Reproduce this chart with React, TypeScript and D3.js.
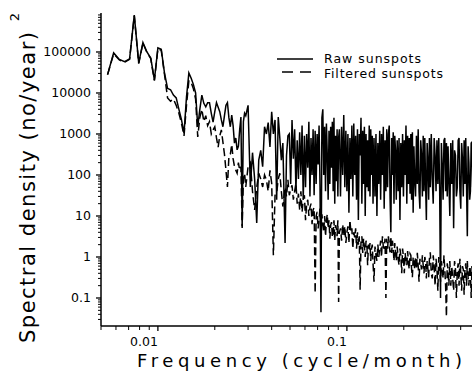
import React from 'react';
import * as d3 from 'd3';

// Periodogram harmonics (frequency = harmonic / record length in months)
const RECORD_MONTHS = 2400;
const HARMONICS = [
  13, 14, 15, 16, 17, 18, 19, 20, 21, 22, 23, 24, 25, 26, 27, 28, 29, 30, 31, 32,
  33, 34, 35, 36, 37, 38, 39, 40, 41, 42, 43, 44, 45, 46, 47, 48, 49, 50, 51, 52,
  53, 54, 55, 56, 57, 58, 59, 60, 61, 62, 63, 64, 65, 66, 67, 68, 69, 70,
  72, 74, 76, 78, 80, 82, 84, 86, 88, 90, 92, 94, 96, 98, 100, 102, 104, 106, 108, 110,
  113, 115, 117, 119, 121, 123, 125, 127, 129, 131, 133, 135, 137, 139, 141, 143, 145, 147, 149, 151,
  153, 155, 157, 159, 161, 163,
  165, 167, 169, 171, 173, 175, 177, 179, 181, 183, 185, 187, 189, 191, 193, 195, 197, 199, 201, 203,
  205, 207, 209, 211, 213, 215, 217, 219,
  222, 225, 228, 231, 234, 237, 240, 243, 246, 249, 252, 255, 258, 261, 264, 267, 270, 273, 276, 279,
  282, 285, 288, 291, 294, 297, 300, 303, 306, 309, 312, 315, 318, 321, 324, 327, 330,
  334, 338, 342, 346, 350, 354, 358, 362, 366, 370, 374, 378, 382, 386, 390, 394, 398, 402, 406, 410,
  414, 418, 422, 426, 430, 434, 438,
  443, 448, 453, 458, 463, 468, 473, 478, 483, 488, 493, 498, 503, 508, 513, 518, 523, 528, 533, 538,
  543, 548,
  554, 560, 566, 572, 578, 584, 590, 596, 602, 608, 614, 620, 626, 632, 638, 644, 650, 656,
  663, 671, 679, 687, 695, 703, 711, 719, 727, 735, 743, 751, 759, 767, 775, 783, 791, 799, 807, 815,
  823, 831,
  841, 851, 861, 871, 881, 891, 901, 911, 921, 931, 941, 951, 961, 971, 981, 991, 1001, 1011, 1021, 1031,
  1041, 1051, 1061, 1071, 1081, 1091, 1101, 1111, 1121, 1131, 1141, 1151, 1161, 1171, 1181, 1191, 1200,
];

const RAW_DENSITY = [
  28000, 95000, 66000, 58000, 68000, 790000, 54000, 170000, 100000, 71000,
  21000, 126000, 117000, 31000, 13000, 12000, 8900, 7600, 4000, 2200,
  1050, 7900, 31000, 23000, 16000, 10000, 1500, 4000, 8900, 5600,
  4600, 5800, 5800, 3200, 1950, 3500, 5800, 4500, 3500, 2200,
  1500, 2800, 5000, 5800, 2500, 1500, 2900, 1600, 600, 800,
  410, 500, 1260, 2600, 5.6, 2000, 3200, 2800,
  5000, 51, 350, 80, 6.8, 230, 400, 160, 1500, 1000, 1900, 480, 3500, 1000, 2200, 25, 2600, 800, 230, 600,
  2.2, 300, 900, 1000, 60, 2200, 250, 1300, 40, 700, 80, 1100, 100, 1600, 25, 900, 50, 1000, 150, 2000,
  30, 800, 100, 1300, 32, 1200,
  60, 1000, 180, 1600, 50, 0.045, 2500, 4000, 100, 1500, 40, 1800, 300, 25, 1200, 60, 1500, 150, 2000, 40,
  2500, 20, 900, 70, 1300, 30, 800, 1300,
  30, 1500, 100, 2900, 50, 1200, 40, 1000, 12, 800, 80, 1600, 30, 1800, 100, 900, 25, 1300, 8, 1000,
  300, 2500, 20, 1200, 60, 1500, 10, 1000, 50, 700, 40, 1600, 30, 1300, 100, 900, 20,
  800, 30, 1000, 10, 600, 60, 1200, 25, 1000, 100, 1500, 15, 700, 40, 1300, 50, 1000, 1600, 30, 4,
  800, 100, 1100, 20, 900, 400, 25,
  700, 40, 800, 8, 600, 50, 1000, 30, 700, 100, 1600, 20, 900, 60, 800, 35, 1000, 25, 1100, 12,
  500, 80,
  30, 900, 60, 1300, 40, 15, 700, 300, 30, 900, 40, 800, 60, 8, 600, 200, 25, 800,
  50, 1000, 80, 20, 800, 300, 40, 700, 60, 800, 50, 0.1, 600, 150, 25, 700, 800, 40, 600, 30,
  500, 80,
  10, 600, 60, 700, 5, 400, 300, 30, 50, 700, 800, 40, 15, 600, 250, 30, 700, 60, 800, 50,
  3.2, 500, 200, 25, 40, 600, 630, 50, 500, 30, 700, 60, 500, 25, 600, 80, 400,
];

const FILTERED_DENSITY = [
  28000, 90000, 64000, 56000, 66000, 760000, 52000, 165000, 97000, 69000,
  20000, 120000, 110000, 29000, 7600, 6300, 7100, 5000, 3200, 1800,
  900, 5000, 20000, 18000, 12600, 7100, 850, 2500, 4000, 2000,
  2800, 1600, 2000, 1000, 1260, 1500, 800, 480, 900, 1260,
  630, 320, 130, 51, 280, 320, 560, 250, 160, 130,
  110, 200, 130, 160, 5.1, 80, 110, 51,
  160, 200, 40, 14, 50, 110, 80, 51, 100, 76, 40, 130, 63, 1.1, 32, 36, 80, 110, 40, 17,
  50, 30, 76, 32, 45, 56, 25, 40, 63, 20, 35, 14, 40, 12.6, 25, 32, 7.9, 20, 25, 10,
  16, 20, 6.3, 14, 16, 0.13,
  10, 12.6, 5, 8, 16, 4, 11, 6, 4, 10, 3.2, 8, 11, 5, 7.9, 2.8, 6, 7.1, 3, 4,
  7.9, 2.5, 6, 5, 3.2, 7.9, 0.08, 4,
  5, 2.5, 6.3, 3.2, 5.6, 2.2, 4, 5.6, 2.2, 7.9, 4, 5, 1.6, 4, 3, 5, 1.6, 4, 2, 3.2,
  0.16, 2.5, 3.2, 1.26, 2.8, 1.8, 1, 2.5, 2.2, 0.63, 2, 1.4, 2.2, 0.8, 1.6, 2, 0.7,
  0.25, 1.8, 1.1, 0.8, 2, 1, 1.6, 2.5, 1, 3.2, 1.8, 1.6, 2.8, 0.1, 2.8, 1.6, 3.2, 2, 1.3, 3.2,
  1.26, 2.5, 1.6, 0.8, 2.2, 1.3, 0.8,
  1.8, 0.9, 0.63, 1.6, 1.1, 0.4, 1.6, 1.0, 0.4, 1.26, 0.8, 0.63, 1.4, 0.7, 0.5, 1.2, 1.1, 0.5, 0.32, 1,
  0.8, 0.5,
  1, 0.5, 1.26, 0.6, 0.25, 0.9, 0.7, 0.5, 1.1, 0.63, 0.4, 1, 0.8, 0.3, 0.8, 0.5, 0.32, 0.9,
  1.3, 0.4, 0.3, 1.1, 0.6, 0.2, 0.9, 0.5, 0.15, 1.0, 0.7, 0.25, 0.8, 0.5, 0.3, 1.1, 0.5, 0.2, 0.035, 0.7,
  0.5, 0.2,
  0.8, 0.2, 0.6, 0.3, 0.15, 0.8, 0.5, 0.1, 0.45, 0.7, 0.2, 0.9, 0.4, 0.15, 0.6, 0.5, 0.12, 0.5, 0.7, 0.2,
  0.8, 0.3, 0.2, 0.6, 0.45, 0.1, 0.6, 0.3, 0.2, 0.6, 0.45, 0.15, 0.55, 0.3, 0.2, 0.5, 0.35,
];

const X_TICK_VALUES = [0.01, 0.1];
const X_TICK_LABELS = ['0.01', '0.1'];
const Y_TICK_VALUES = [0.1, 1, 10, 100, 1000, 10000, 100000];
const Y_TICK_LABELS = ['0.1', '1', '10', '100', '1000', '10000', '100000'];
const SERIES_NAMES = ['Raw sunspots', 'Filtered sunspots'];

const FONT = '"DejaVu Sans", sans-serif';

export default function App() {
  const W = 472;
  const H = 373;
  const x = d3.scaleLog().domain([0.005, 0.5]).range([101, 479]);
  const y = d3.scaleLog().domain([0.02075, 893000]).range([326, 13]);

  const n = Math.min(HARMONICS.length, RAW_DENSITY.length, FILTERED_DENSITY.length);
  const rawPts: [number, number][] = [];
  const filPts: [number, number][] = [];
  for (let i = 0; i < n; i++) {
    const f = HARMONICS[i] / RECORD_MONTHS;
    rawPts.push([f, RAW_DENSITY[i]]);
    filPts.push([f, FILTERED_DENSITY[i]]);
  }
  const line = d3
    .line<[number, number]>()
    .x((d) => x(d[0]))
    .y((d) => y(d[1]));

  const xMinor = x.ticks().filter((t) => !X_TICK_VALUES.some((m) => Math.abs(m - t) / m < 1e-6));
  const yMinor = y.ticks().filter((t) => !Y_TICK_VALUES.some((m) => Math.abs(m - t) / m < 1e-6));
  const [x0, x1] = x.range();
  const [y0, y1] = y.range();

  return (
    <svg
      width={W}
      height={H}
      style={{ position: 'absolute', left: 0, top: 0, background: '#fff' }}
      fontFamily={FONT}
    >
      <rect x={0} y={0} width={W} height={H} fill="#fff" />
      {/* axes */}
      <line x1={x0} x2={x0} y1={y0} y2={y1} stroke="#000" strokeWidth={1.5} />
      <line x1={x0} x2={x1} y1={y0} y2={y0} stroke="#000" strokeWidth={1.5} />
      {yMinor.map((t, i) => (
        <line key={'ym' + i} x1={x0 - 3} x2={x0} y1={y(t)} y2={y(t)} stroke="#000" strokeWidth={1} />
      ))}
      {Y_TICK_VALUES.map((t, i) => (
        <g key={'yt' + i}>
          <line x1={x0 - 5} x2={x0} y1={y(t)} y2={y(t)} stroke="#000" strokeWidth={1.3} />
          <text x={91} y={y(t)} dy="0.36em" textAnchor="end" fontSize={12.5} fill="#000">
            {Y_TICK_LABELS[i]}
          </text>
        </g>
      ))}
      {xMinor.map((t, i) => (
        <line key={'xm' + i} x1={x(t)} x2={x(t)} y1={y0} y2={y0 + 4} stroke="#000" strokeWidth={1} />
      ))}
      {X_TICK_VALUES.map((t, i) => (
        <g key={'xt' + i}>
          <line x1={x(t)} x2={x(t)} y1={y0} y2={y0 + 5} stroke="#000" strokeWidth={1.3} />
          <text x={x(t)} y={345.5} textAnchor="end" fontSize={12.5} fill="#000">
            {X_TICK_LABELS[i]}
          </text>
        </g>
      ))}
      {/* axis titles */}
      <text x={137} y={367} fontSize={18} textLength={325} lengthAdjust="spacing" fill="#000">
        Frequency (cycle/month)
      </text>
      <text
        transform="translate(35,343) rotate(-90)"
        fontSize={21}
        textLength={311}
        lengthAdjust="spacing"
        fill="#000"
      >
        Spectral density (no/year)
      </text>
      <text transform="translate(19,17) rotate(-90)" fontSize={13} textAnchor="middle" fill="#000">
        2
      </text>
      {/* data */}
      <path d={line(filPts) || ''} fill="none" stroke="#000" strokeWidth={1.5} strokeDasharray="8,4" />
      <path d={line(rawPts) || ''} fill="none" stroke="#000" strokeWidth={1.5} />
      {/* legend */}
      <line x1={277} x2={313} y1={59} y2={59} stroke="#000" strokeWidth={1.4} />
      <text x={324} y={63} fontSize={12.5} textLength={97} lengthAdjust="spacing" fill="#000">
        {SERIES_NAMES[0]}
      </text>
      <line x1={282} x2={313} y1={72} y2={72} stroke="#000" strokeWidth={1.4} strokeDasharray="11,7" />
      <text x={324} y={78} fontSize={12.5} textLength={119} lengthAdjust="spacing" fill="#000">
        {SERIES_NAMES[1]}
      </text>
    </svg>
  );
}
